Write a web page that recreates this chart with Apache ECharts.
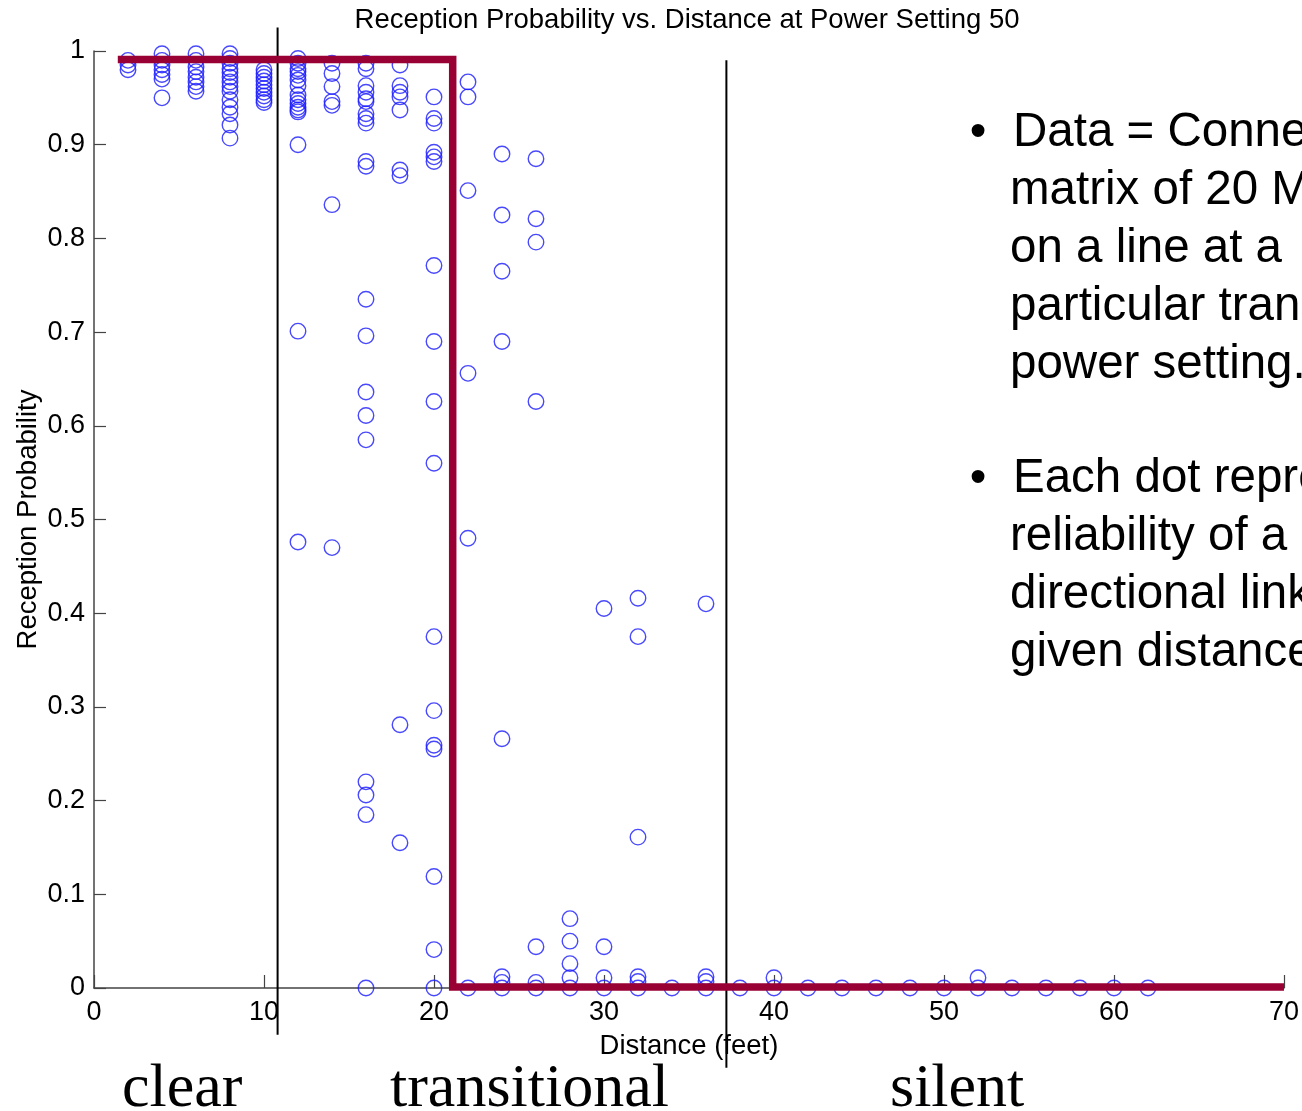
<!DOCTYPE html>
<html>
<head>
<meta charset="utf-8">
<script src="https://cdn.jsdelivr.net/npm/echarts@6/dist/echarts.min.js"></script>
<style>
  html, body { margin: 0; padding: 0; background: #fff; }
  #chart { width: 1302px; height: 1111px; }
</style>
</head>
<body>
<div id="chart"></div>
<script>
// distance of each mote pair (feet)
const distances = [2, 4, 6, 8, 10, 12, 14, 16, 18, 20, 22, 24, 26, 28, 30, 32, 34, 36, 38, 40, 42, 44, 46, 48, 50, 52, 54, 56, 58, 60, 62];

// reception probability of each directional link, one list per distance
const reception = [
  [0.99, 0.985, 0.98],
  [0.997, 0.99, 0.985, 0.98, 0.975, 0.97, 0.95],
  [0.997, 0.99, 0.983, 0.978, 0.972, 0.967, 0.962, 0.957],
  [0.997, 0.992, 0.987, 0.981, 0.977, 0.972, 0.967, 0.962, 0.957, 0.948, 0.94, 0.933, 0.921, 0.907],
  [0.98, 0.976, 0.972, 0.968, 0.964, 0.96, 0.956, 0.952, 0.948, 0.945],
  [0.992, 0.987, 0.981, 0.978, 0.974, 0.969, 0.963, 0.953, 0.948, 0.944, 0.94, 0.937, 0.935, 0.9, 0.701, 0.476],
  [0.987, 0.976, 0.962, 0.946, 0.942, 0.836, 0.47],
  [0.987, 0.981, 0.963, 0.956, 0.949, 0.946, 0.933, 0.928, 0.923, 0.882, 0.877, 0.735, 0.696, 0.636, 0.611, 0.585, 0.22, 0.206, 0.185, 0],
  [0.985, 0.963, 0.956, 0.951, 0.937, 0.873, 0.867, 0.281, 0.155],
  [0.951, 0.928, 0.923, 0.892, 0.887, 0.882, 0.771, 0.69, 0.626, 0.56, 0.375, 0.296, 0.259, 0.255, 0.119, 0.041, 0],
  [0.967, 0.951, 0.851, 0.656, 0.48, 0],
  [0.89, 0.825, 0.765, 0.69, 0.266, 0.012, 0.006, 0],
  [0.885, 0.821, 0.796, 0.626, 0.044, 0.006, 0],
  [0.074, 0.05, 0.026, 0.011, 0],
  [0.405, 0.044, 0.011, 0],
  [0.416, 0.375, 0.161, 0.012, 0.007, 0],
  [0],
  [0.41, 0.012, 0.007, 0],
  [0],
  [0.011, 0],
  [0], [0], [0], [0], [0],
  [0.011, 0],
  [0], [0], [0], [0], [0]
];

// idealised step (clear -> silent) and the region dividers
const stepEdge = [[1.4, 0.991], [21.1, 0.991], [21.1, 0.001], [70, 0.001]];
const dividerClear = [[10.8, 1.025], [10.8, -0.05]];
const dividerSilent = [[37.2, 0.99], [37.2, -0.085]];

const xTicks = [0, 10, 20, 30, 40, 50, 60, 70];
const regionLabels = ['clear', 'transitional', 'silent'];
const bulletOne = ['Data = Connectivity', 'matrix of 20 Motes', 'on a line at a', 'particular transmission', 'power setting.'];
const bulletTwo = ['Each dot represents', 'reliability of a', 'directional link at a', 'given distance.'];

const sans = 'Liberation Sans, Arial, sans-serif';
const serif = 'Liberation Serif, Times New Roman, serif';

const points = [];
distances.forEach((d, i) => {
  reception[i].forEach(v => points.push([d, v]));
});

const textEl = (text, x, y, size, family, align) => ({
  type: 'text',
  x: x,
  y: y,
  silent: true,
  style: {
    text: text,
    fill: '#000',
    font: size + 'px ' + family,
    textAlign: align || 'left',
    textVerticalAlign: 'middle'
  }
});

const graphics = [
  textEl('Reception Probability vs. Distance at Power Setting 50', 687, 20, 27.5, sans, 'center'),
  textEl(regionLabels[0], 122, 1090, 62, serif),
  textEl(regionLabels[1], 390, 1090, 62, serif),
  textEl(regionLabels[2], 890, 1090, 62, serif)
];
bulletOne.forEach((line, i) => {
  if (i === 0) graphics.push(textEl('\u2022', 978, 133, 47.5, sans, 'center'));
  graphics.push(textEl(line, i === 0 ? 1013 : 1010, 133 + i * 58, 47.5, sans));
});
bulletTwo.forEach((line, i) => {
  if (i === 0) graphics.push(textEl('\u2022', 978, 479, 47.5, sans, 'center'));
  graphics.push(textEl(line, i === 0 ? 1013 : 1010, 479 + i * 58, 47.5, sans));
});

const chart = echarts.init(document.getElementById('chart'));
chart.setOption({
  animation: false,
  backgroundColor: '#fff',
  grid: { left: 94, right: 18, top: 51, bottom: 123 },
  xAxis: {
    type: 'value',
    min: xTicks[0],
    max: xTicks[xTicks.length - 1],
    interval: 10,
    name: 'Distance (feet)',
    nameLocation: 'middle',
    nameGap: 44,
    nameMoveOverlap: false,
    nameTextStyle: { fontSize: 27.5, color: '#000', fontFamily: sans },
    axisLine: { show: true, onZero: false, lineStyle: { color: '#444', width: 1.5 } },
    axisTick: { show: true, inside: true, length: 13, lineStyle: { color: '#444', width: 1.2 } },
    axisLabel: { fontSize: 27, color: '#000', fontFamily: sans, margin: 11 },
    splitLine: { show: false }
  },
  yAxis: {
    type: 'value',
    min: 0,
    max: 1,
    interval: 0.1,
    name: 'Reception Probability',
    nameLocation: 'middle',
    nameGap: 52,
    nameMoveOverlap: false,
    nameTextStyle: { fontSize: 27.5, color: '#000', fontFamily: sans },
    axisLine: { show: true, onZero: false, lineStyle: { color: '#444', width: 1.5 } },
    axisTick: { show: true, inside: true, length: 12, lineStyle: { color: '#444', width: 1.2 } },
    axisLabel: { fontSize: 27, color: '#000', fontFamily: sans, margin: 9 },
    splitLine: { show: false }
  },
  graphic: graphics,
  series: [
    {
      type: 'scatter',
      data: points,
      symbol: 'circle',
      symbolSize: 15.5,
      silent: true,
      itemStyle: { color: 'rgba(0,0,0,0)', borderColor: '#1a1aff', borderWidth: 1.4 },
      z: 2
    },
    {
      type: 'line',
      data: dividerClear,
      clip: false,
      symbol: 'none',
      silent: true,
      lineStyle: { color: '#000', width: 2 },
      z: 3
    },
    {
      type: 'line',
      data: dividerSilent,
      clip: false,
      symbol: 'none',
      silent: true,
      lineStyle: { color: '#000', width: 2 },
      z: 3
    },
    {
      type: 'line',
      data: stepEdge,
      clip: false,
      symbol: 'none',
      silent: true,
      lineStyle: { color: '#990033', width: 7.5, cap: 'butt', join: 'miter' },
      z: 4
    }
  ]
});
</script>
</body>
</html>
